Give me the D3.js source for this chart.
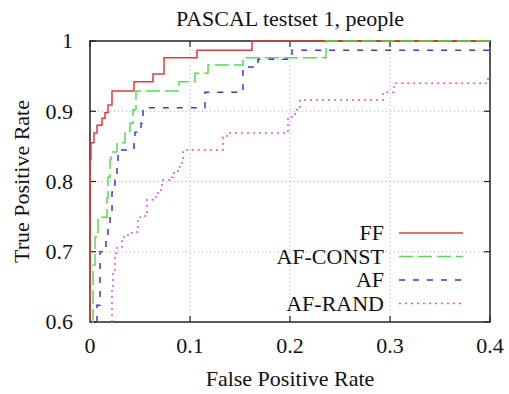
<!DOCTYPE html>
<html>
<head>
<meta charset="utf-8">
<script src="https://cdn.jsdelivr.net/npm/d3@7"></script>
<style>
  body { margin: 0; background: #fff; }
  text { font-family: "Liberation Serif", "DejaVu Serif", serif; fill: #111; }
</style>
</head>
<body>
<div id="chart"></div>
<script>
// ROC points [false positive rate, true positive rate]
const ffPoints = [
  [0.000, 0.600], [0.000, 0.831], [0.001, 0.855], [0.004, 0.869], [0.007, 0.880],
  [0.012, 0.890], [0.015, 0.898], [0.018, 0.909], [0.022, 0.929], [0.044, 0.942],
  [0.063, 0.953], [0.074, 0.976], [0.107, 0.987], [0.162, 1.000], [0.400, 1.000]
];
const afConstPoints = [
  [0.002, 0.600], [0.003, 0.681], [0.005, 0.721], [0.008, 0.749], [0.017, 0.777],
  [0.018, 0.806], [0.020, 0.831], [0.021, 0.842], [0.027, 0.855], [0.035, 0.869],
  [0.040, 0.883], [0.043, 0.902], [0.046, 0.929], [0.089, 0.942], [0.105, 0.954],
  [0.118, 0.966], [0.153, 0.976], [0.236, 1.000], [0.400, 1.000]
];
const afPoints = [
  [0.007, 0.600], [0.007, 0.624], [0.010, 0.677], [0.010, 0.700], [0.016, 0.717],
  [0.018, 0.734], [0.020, 0.759], [0.022, 0.785], [0.025, 0.802], [0.027, 0.826],
  [0.028, 0.845], [0.044, 0.856], [0.045, 0.870], [0.051, 0.883], [0.052, 0.890],
  [0.053, 0.905], [0.115, 0.927], [0.153, 0.963], [0.168, 0.974], [0.202, 0.987],
  [0.400, 0.987]
];
const afRandPoints = [
  [0.022, 0.600], [0.022, 0.646], [0.023, 0.670], [0.025, 0.698], [0.027, 0.707],
  [0.032, 0.721], [0.038, 0.727], [0.047, 0.735], [0.048, 0.749], [0.055, 0.755],
  [0.057, 0.774], [0.063, 0.778], [0.068, 0.788], [0.072, 0.802], [0.080, 0.806],
  [0.083, 0.812], [0.088, 0.821], [0.092, 0.831], [0.093, 0.842], [0.097, 0.845],
  [0.133, 0.863], [0.137, 0.869], [0.198, 0.892], [0.205, 0.902], [0.210, 0.916],
  [0.293, 0.927], [0.304, 0.940], [0.398, 0.949], [0.400, 0.949]
];

const seriesNames = ["FF", "AF-CONST", "AF", "AF-RAND"];
const seriesData = [ffPoints, afConstPoints, afPoints, afRandPoints];
const xTicks = [0, 0.1, 0.2, 0.3, 0.4];
const yTicks = [0.6, 0.7, 0.8, 0.9, 1];

const titleText = "PASCAL testset 1, people";
const xLabel = "False Positive Rate";
const yLabel = "True Positive Rate";

// styles per series
const colors = ["#e03c3c", "#55dd55", "#3a3ad4", "#e050e0"];
const dashes = [null, "14,5", "6,8", "2,4"];

const width = 509, height = 394;
const margin = { top: 41, right: 19, bottom: 72, left: 90 };
const plotW = width - margin.left - margin.right;
const plotH = height - margin.top - margin.bottom;

const svg = d3.select("#chart").append("svg")
  .attr("width", width)
  .attr("height", height);

const x = d3.scaleLinear().domain([0, 0.4]).range([margin.left, margin.left + plotW]);
const y = d3.scaleLinear().domain([0.6, 1]).range([margin.top + plotH, margin.top]);
const fmt = d => d === 0 ? "0" : d === 1 ? "1" : d.toFixed(1);

// grid
const grid = svg.append("g")
  .attr("stroke", "#aaa")
  .attr("stroke-width", 1)
  .attr("stroke-dasharray", "1,3");
xTicks.slice(1, -1).forEach(t => {
  grid.append("line")
    .attr("x1", x(t)).attr("x2", x(t))
    .attr("y1", y(0.6)).attr("y2", y(1));
});
yTicks.slice(1, -1).forEach(t => {
  grid.append("line")
    .attr("x1", x(0)).attr("x2", x(0.4))
    .attr("y1", y(t)).attr("y2", y(t));
});

// inward ticks, mirrored on all sides
const tickLen = 6;
const tickG = svg.append("g").attr("stroke", "#222").attr("stroke-width", 1.2);
xTicks.forEach(t => {
  tickG.append("line").attr("x1", x(t)).attr("x2", x(t)).attr("y1", y(0.6)).attr("y2", y(0.6) - tickLen);
  tickG.append("line").attr("x1", x(t)).attr("x2", x(t)).attr("y1", y(1)).attr("y2", y(1) + tickLen);
});
yTicks.forEach(t => {
  tickG.append("line").attr("x1", x(0)).attr("x2", x(0) + tickLen).attr("y1", y(t)).attr("y2", y(t));
  tickG.append("line").attr("x1", x(0.4)).attr("x2", x(0.4) - tickLen).attr("y1", y(t)).attr("y2", y(t));
});

// border
svg.append("rect")
  .attr("x", x(0)).attr("y", y(1))
  .attr("width", x(0.4) - x(0)).attr("height", y(0.6) - y(1))
  .attr("fill", "none")
  .attr("stroke", "#222")
  .attr("stroke-width", 1.5);

// tick labels
svg.append("g").selectAll("text").data(xTicks).join("text")
  .attr("x", d => x(d))
  .attr("y", y(0.6) + 31)
  .attr("text-anchor", "middle")
  .attr("font-size", "22px")
  .text(fmt);
svg.append("g").selectAll("text").data(yTicks).join("text")
  .attr("x", x(0) - 17)
  .attr("y", d => y(d))
  .attr("dy", "0.33em")
  .attr("text-anchor", "end")
  .attr("font-size", "22px")
  .text(fmt);

// titles
svg.append("text")
  .attr("x", (x(0) + x(0.4)) / 2)
  .attr("y", 26)
  .attr("text-anchor", "middle")
  .attr("font-size", "22px")
  .text(titleText);
svg.append("text")
  .attr("x", (x(0) + x(0.4)) / 2)
  .attr("y", 386)
  .attr("text-anchor", "middle")
  .attr("font-size", "22px")
  .text(xLabel);
svg.append("text")
  .attr("transform", `translate(29,${(y(0.6) + y(1)) / 2}) rotate(-90)`)
  .attr("text-anchor", "middle")
  .attr("font-size", "22px")
  .text(yLabel);

// curves
svg.append("clipPath").attr("id", "clip")
  .append("rect")
  .attr("x", x(0) - 1).attr("y", y(1) - 1)
  .attr("width", x(0.4) - x(0) + 2).attr("height", y(0.6) - y(1) + 2);

const line = d3.line()
  .x(d => x(d[0]))
  .y(d => y(d[1]))
  .curve(d3.curveStepAfter);

const curves = svg.append("g").attr("clip-path", "url(#clip)");
seriesData.forEach((pts, i) => {
  curves.append("path")
    .datum(pts)
    .attr("d", line)
    .attr("fill", "none")
    .attr("stroke", colors[i])
    .attr("stroke-width", 1.5)
    .attr("stroke-dasharray", dashes[i]);
});

// legend
const legend = svg.append("g");
seriesNames.forEach((name, i) => {
  const ly = 233 + i * 23.5;
  legend.append("text")
    .attr("x", 384)
    .attr("y", ly)
    .attr("dy", "0.33em")
    .attr("text-anchor", "end")
    .attr("font-size", "22px")
    .text(name);
  legend.append("line")
    .attr("x1", 399).attr("x2", 463)
    .attr("y1", ly).attr("y2", ly)
    .attr("stroke", colors[i])
    .attr("stroke-width", 1.5)
    .attr("stroke-dasharray", dashes[i]);
});
</script>
</body>
</html>
